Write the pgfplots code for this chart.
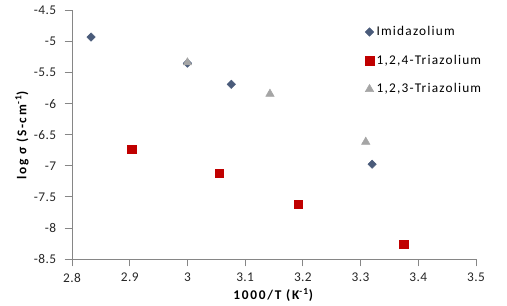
\documentclass[border=0pt]{standalone}
\usepackage{pgfplots}
\pgfplotsset{compat=1.18}
\usepackage{fontspec}
\setmainfont{Carlito}
\newfontfamily\legfont[LetterSpace=9]{Carlito}
\newfontfamily\labfont[LetterSpace=13]{Carlito}
\newfontfamily\tickfont[LetterSpace=3]{Carlito}
\definecolor{imid}{HTML}{4A5B7A}
\definecolor{tri4}{HTML}{C00000}
\definecolor{tri3}{HTML}{A5A5A5}
\definecolor{axgray}{HTML}{868686}
\definecolor{txt}{HTML}{262626}
\begin{document}
\begin{tikzpicture}
\path[use as bounding box] (-54pt,-35.25pt) rectangle (326.25pt,194.25pt);
\begin{axis}[
  scale only axis,
  width=303pt, height=186.5pt,
  xmin=2.8, xmax=3.5, ymin=-8.5, ymax=-4.5,
  xtick={2.8,2.9,...,3.5}, ytick={-8.5,-8,...,-4.5},
  axis x line*=bottom, axis y line*=left,
  axis line style={axgray, -},
  tick style={axgray, line width=0.6pt},
  tick align=outside, major tick length=5.5pt,
  every axis plot/.append style={only marks},
  /pgf/number format/assume math mode=true,
  /pgf/number format/fixed,
  ticklabel style={font=\tickfont\fontsize{10}{12}\selectfont, color=txt, inner sep=1.5pt},
  xticklabel={\raisebox{-3.5pt}[\height][\depth]{\pgfmathprintnumber{\tick}}},
  yticklabel style={xshift=-4.75pt},
  xlabel={\textbf{1000/T (K\textsuperscript{-1})}},
  ylabel={\textbf{log σ (S-cm\textsuperscript{-1})}},
  label style={font=\labfont\fontsize{10}{12}\selectfont, color=black, inner sep=1.5pt},
  xlabel style={at={(axis description cs:0.5,0)}, anchor=base, yshift=-30.5pt},
  ylabel style={at={(axis description cs:-0.1238,0.5)}, anchor=center, rotate=0},
  legend style={at={(0.715,0.958)}, anchor=north west, draw=none, fill=none,
    font=\legfont\fontsize{10}{12}\selectfont, row sep=9pt},
  legend cell align=left,
]
\addplot[mark=square*, mark size=2.2pt, mark options={rotate=45, fill=imid, draw=imid}] coordinates {
 (2.833,-4.93) (3.0,-5.35) (3.076,-5.69) (3.32,-6.975)};
\addlegendentry{Imidazolium}
\addplot[mark=square*, mark size=3.3pt, mark options={fill=tri4, draw=tri4}] coordinates {
 (2.904,-6.735) (3.055,-7.12) (3.192,-7.62) (3.375,-8.262)};
\addlegendentry{1,2,4-Triazolium}
\addplot[mark=triangle*, mark size=3.6pt, mark options={fill=tri3, draw=tri3}] coordinates {
 (3.0,-5.34) (3.143,-5.845) (3.309,-6.617)};
\addlegendentry{1,2,3-Triazolium}
\end{axis}
\end{tikzpicture}
\end{document}
